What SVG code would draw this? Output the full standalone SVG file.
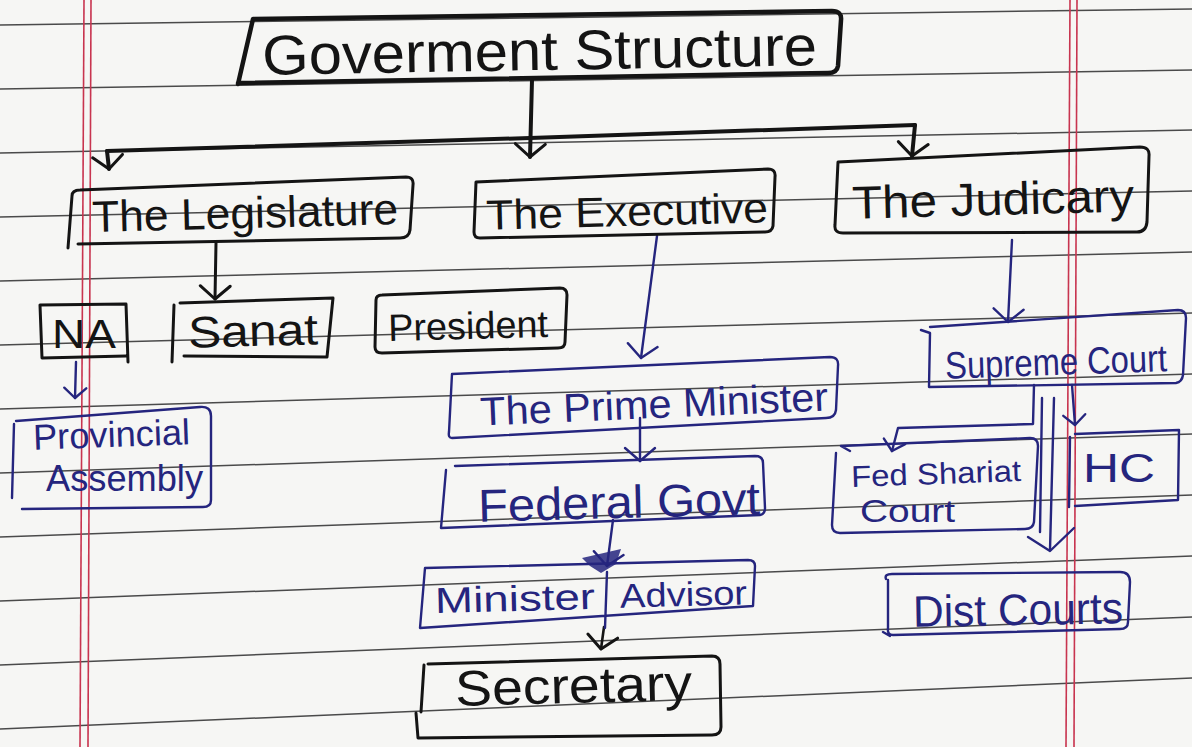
<svg xmlns="http://www.w3.org/2000/svg" width="1192" height="747" viewBox="0 0 1192 747">
<defs>
<style>
.k{fill:none;stroke:#141414;stroke-width:3;stroke-linecap:round;stroke-linejoin:round}
.b{fill:none;stroke:#25257e;stroke-width:2.4;stroke-linecap:round;stroke-linejoin:round}
.tk{font-family:"Liberation Sans",Arial,sans-serif;fill:#141414}
.tb{font-family:"Liberation Sans",Arial,sans-serif;fill:#25257e}
.rule{stroke:#4a4a4a;stroke-width:1.5}
.margin{stroke:#c8344f;stroke-width:1.6}
</style>
<marker id="ak" viewBox="-18 -18 36 36" markerWidth="36" markerHeight="36" refX="0" refY="0" orient="auto" markerUnits="userSpaceOnUse">
<path d="M -13 -15 L 0 0 L -13 15" fill="none" stroke="#141414" stroke-width="3" stroke-linecap="round" stroke-linejoin="round"/>
</marker>
<marker id="ab" viewBox="-18 -18 36 36" markerWidth="36" markerHeight="36" refX="0" refY="0" orient="auto" markerUnits="userSpaceOnUse">
<path d="M -13 -15 L 0 0 L -13 15" fill="none" stroke="#25257e" stroke-width="2.4" stroke-linecap="round" stroke-linejoin="round"/>
</marker>
<marker id="abs" viewBox="-14 -14 28 28" markerWidth="28" markerHeight="28" refX="0" refY="0" orient="auto" markerUnits="userSpaceOnUse">
<path d="M -10 -11 L 0 0 L -10 11" fill="none" stroke="#25257e" stroke-width="2.4" stroke-linecap="round" stroke-linejoin="round"/>
</marker>
</defs>

<g id="paper">
<rect x="0" y="0" width="1192" height="747" fill="#f6f6f4"/>
<line class="rule" x1="0" y1="25" x2="1192" y2="9"/>
<line class="rule" x1="0" y1="89" x2="1192" y2="70"/>
<line class="rule" x1="0" y1="153" x2="1192" y2="130"/>
<line class="rule" x1="0" y1="217" x2="1192" y2="191"/>
<line class="rule" x1="0" y1="281" x2="1192" y2="252"/>
<line class="rule" x1="0" y1="345" x2="1192" y2="313"/>
<line class="rule" x1="0" y1="409" x2="1192" y2="374"/>
<line class="rule" x1="0" y1="473" x2="1192" y2="434"/>
<line class="rule" x1="0" y1="537" x2="1192" y2="495"/>
<line class="rule" x1="0" y1="601" x2="1192" y2="556"/>
<line class="rule" x1="0" y1="665" x2="1192" y2="617"/>
<line class="rule" x1="0" y1="729" x2="1192" y2="678"/>
<line class="margin" x1="84" y1="0" x2="80" y2="747"/>
<line class="margin" x1="91" y1="0" x2="88" y2="747"/>
<line class="margin" x1="1070" y1="0" x2="1066" y2="747"/>
<line class="margin" x1="1077" y1="0" x2="1074" y2="747"/>
</g>

<g id="connectors">
<path class="k" style="stroke-width:4" d="M 532 80 L 530 157" marker-end="url(#ak)"/>
<path class="k" style="stroke-width:4" d="M 107 151 L 530 138 L 915 125"/>
<path class="k" style="stroke-width:4" d="M 107 151 L 109 169" marker-end="url(#ak)"/>
<path class="k" style="stroke-width:4" d="M 915 125 L 912 156" marker-end="url(#ak)"/>
<path class="k" d="M 216 243 L 215 299" marker-end="url(#ak)"/>
<path class="b" d="M 76 362 L 75 398" marker-end="url(#abs)"/>
<path class="b" d="M 657 236 L 641 358" marker-end="url(#ab)"/>
<path class="b" d="M 640 418 L 640 461" marker-end="url(#ab)"/>
<path class="b" d="M 613 520 L 607 566" marker-end="url(#ab)"/>
<path d="M 582 558 L 621 549 L 616 564 L 601 573 L 590 566 Z" fill="#25257e" opacity="0.85"/>
<path class="k" style="stroke-width:2.6" d="M 604 627 L 601 649" marker-end="url(#ak)"/>
<path class="b" d="M 1012 240 L 1008 322" marker-end="url(#ab)"/>
<path class="b" d="M 1034 385 L 1033 424 L 898 428 L 892 451" marker-end="url(#abs)"/>
<path class="b" d="M 1072 385 L 1075 425" marker-end="url(#abs)"/>
<path class="b" d="M 1042 398 L 1040 532"/>
<path class="b" d="M 1054 398 L 1050 550"/>
<path class="b" d="M 1028 537 L 1050 551 L 1074 528"/>
</g>

<g id="title">
<path class="k" style="stroke-width:4.5" d="M 238 84 L 253 19 L 832 11 Q 842 11 841 20 L 838 66 Q 837 73 828 73 L 238 83"/>
<text class="tk" x="262" y="70" font-size="56" textLength="555" lengthAdjust="spacingAndGlyphs" transform="rotate(-1 540 50)">Goverment Structure</text>
</g>

<g id="legislature">
<path class="k" d="M 72 196 Q 72 190 80 190 L 406 177 Q 414 177 413 185 L 410 230 Q 409 238 400 238 L 78 244 M 72 196 L 68 248"/>
<text class="tk" x="92" y="228" font-size="44" textLength="306" lengthAdjust="spacingAndGlyphs" transform="rotate(-1.5 245 212)">The Legislature</text>
</g>

<g id="executive">
<path class="k" d="M 476 182 L 768 169 Q 776 169 775 177 L 773 226 Q 772 232 765 232 L 480 238 Q 474 238 474 232 Z"/>
<text class="tk" x="486" y="226" font-size="42" textLength="282" lengthAdjust="spacingAndGlyphs" transform="rotate(-1.5 627 210)">The Executive</text>
</g>

<g id="judiciary">
<path class="k" d="M 838 162 L 1140 147 Q 1150 147 1149 156 L 1147 222 Q 1146 232 1137 232 L 843 233 Q 834 233 835 225 Z"/>
<text class="tk" x="852" y="215" font-size="46" textLength="282" lengthAdjust="spacingAndGlyphs" transform="rotate(-1.5 993 198)">The Judicary</text>
</g>

<g id="na">
<path class="k" d="M 40 305 L 126 304 L 128 362 M 126 356 L 42 358 L 40 305"/>
<text class="tk" x="52" y="348" font-size="40" textLength="64" lengthAdjust="spacingAndGlyphs">NA</text>
</g>

<g id="sanat">
<path class="k" d="M 174 305 L 172 362 M 180 303 L 333 298 L 327 357 L 184 356"/>
<text class="tk" x="188" y="346" font-size="44" textLength="130" lengthAdjust="spacingAndGlyphs" transform="rotate(-1.5 253 330)">Sanat</text>
</g>

<g id="president">
<path class="k" d="M 376 300 Q 376 295 382 295 L 560 288 Q 567 288 567 295 L 565 342 Q 565 348 558 348 L 382 353 Q 375 353 375 347 Z"/>
<text class="tk" x="388" y="339" font-size="38" textLength="160" lengthAdjust="spacingAndGlyphs" transform="rotate(-1.5 468 325)">President</text>
</g>

<g id="provincial">
<path class="b" d="M 14 424 L 12 498 M 16 421 L 200 407 Q 211 406 211 416 L 211 500 Q 211 507 203 507 L 22 509"/>
<text class="tb" x="33" y="447" font-size="36" textLength="157" lengthAdjust="spacingAndGlyphs" transform="rotate(-2 111 435)">Provincial</text>
<text class="tb" x="46" y="491" font-size="36" textLength="157" lengthAdjust="spacingAndGlyphs">Assembly</text>
</g>

<g id="primeminister">
<path class="b" d="M 452 374 L 830 357 Q 839 357 838 366 L 836 410 Q 835 418 826 418 L 452 438 Q 448 438 449 432 Z"/>
<text class="tb" x="480" y="418" font-size="40" textLength="348" lengthAdjust="spacingAndGlyphs" transform="rotate(-2.5 654 402)">The Prime Minister</text>
</g>

<g id="federal">
<path class="b" d="M 446 470 L 441 528 L 760 515 Q 765 514 765 508 L 763 463 Q 763 456 755 456 L 455 466"/>
<text class="tb" x="478" y="518" font-size="46" textLength="282" lengthAdjust="spacingAndGlyphs" transform="rotate(-1.5 619 500)">Federal Govt</text>
</g>

<g id="minister">
<path class="b" d="M 425 568 L 748 560 Q 755 560 755 566 L 753 606 L 420 628 Z M 607 572 L 605 628"/>
<text class="tb" x="435" y="611" font-size="36" textLength="160" lengthAdjust="spacingAndGlyphs" transform="rotate(-1.5 515 598)">Minister</text>
<text class="tb" x="620" y="606" font-size="34" textLength="127" lengthAdjust="spacingAndGlyphs" transform="rotate(-1.5 683 594)">Advisor</text>
</g>

<g id="secretary">
<path class="k" d="M 424 665 L 421 712 M 428 664 L 712 656 Q 720 656 720 664 L 721 727 Q 721 735 712 735 L 418 738 L 416 713"/>
<text class="tk" x="455" y="703" font-size="50" textLength="237" lengthAdjust="spacingAndGlyphs" transform="rotate(-1.5 573 685)">Secretary</text>
</g>

<g id="supremecourt">
<path class="b" d="M 921 330 L 930 333 L 929 387 L 1176 383 Q 1182 382 1183 375 L 1186 318 Q 1186 310 1178 310 L 930 327"/>
<text class="tb" x="945" y="375" font-size="38" textLength="222" lengthAdjust="spacingAndGlyphs" transform="rotate(-2 1056 360)">Supreme Court</text>
</g>

<g id="fedshariat">
<path class="b" d="M 841 446 L 1030 438 Q 1038 438 1038 446 L 1034 522 Q 1033 529 1025 529 L 840 533 Q 832 533 832 525 L 836 453 M 841 446 L 850 451"/>
<text class="tb" x="851" y="484" font-size="30" textLength="170" lengthAdjust="spacingAndGlyphs" transform="rotate(-2 936 472)">Fed Shariat</text>
<text class="tb" x="860" y="522" font-size="32" textLength="95" lengthAdjust="spacingAndGlyphs">Court</text>
</g>

<g id="hc">
<path class="b" d="M 1070 437 L 1069 507 M 1075 434 L 1179 430 L 1178 500 L 1075 506"/>
<text class="tb" x="1083" y="482" font-size="40" textLength="72" lengthAdjust="spacingAndGlyphs">HC</text>
</g>

<g id="distcourts">
<path class="b" d="M 886 579 Q 884 574 892 574 L 1120 572 Q 1130 572 1130 582 L 1128 622 Q 1128 629 1120 629 L 893 635 Q 887 635 888 628 L 888 580 M 883 632 L 890 636"/>
<text class="tb" x="913" y="625" font-size="44" textLength="210" lengthAdjust="spacingAndGlyphs" transform="rotate(-1 1018 610)">Dist Courts</text>
</g>
</svg>
